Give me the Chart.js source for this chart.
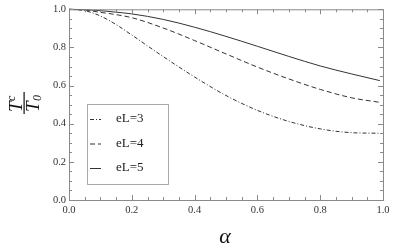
<!DOCTYPE html>
<html lang="en">
  <head>
    <meta charset="UTF-8" />
    <title>Tc over T0</title>
    <style>
      html, body { margin: 0; padding: 0; background: #fff; }
      #wrap { width: 405px; height: 252px; }
    </style>
  </head>
  <body>
    <div id="wrap">
      <canvas id="tcChart" width="405" height="252"></canvas>
    </div>

    <script src="https://cdn.jsdelivr.net/npm/chart.js"></script>
    <script>
      // values
      let alpha = [0, 0.05, 0.1, 0.15, 0.2, 0.3, 0.4, 0.5, 0.6, 0.7, 0.8, 0.9, 0.99];
      let eL3 = [1.0, 0.993, 0.965, 0.92, 0.865, 0.752, 0.645, 0.548, 0.47, 0.412, 0.373, 0.353, 0.35];
      let eL4 = [1.0, 0.996, 0.984, 0.972, 0.956, 0.902, 0.836, 0.766, 0.697, 0.635, 0.58, 0.536, 0.512];
      let eL5 = [1.0, 0.998, 0.993, 0.985, 0.976, 0.947, 0.906, 0.858, 0.806, 0.753, 0.703, 0.661, 0.626];
      let labels = ["eL=3", "eL=4", "eL=5"];
      let majorStep = 0.2;
      let minorStep = 0.05;

      let serif = "'Liberation Serif', 'Times New Roman', serif";
      let frameColor = "#8a8a8a";

      function pts(ys) {
        return alpha.map((a, i) => ({ x: a, y: ys[i] }));
      }

      function line(label, ys, dash) {
        return {
          label: label,
          data: pts(ys),
          borderColor: "#333",
          borderWidth: 1,
          borderDash: dash,
          pointRadius: 0,
          fill: false,
          cubicInterpolationMode: "monotone",
          clip: false,
        };
      }

      // frame, inward ticks on all four sides, legend box and axis titles
      let decorations = {
        id: "decorations",
        afterDraw(chart) {
          let ctx = chart.ctx;
          let area = chart.chartArea;
          let xs = chart.scales.x;
          let ys = chart.scales.y;
          ctx.save();
          ctx.strokeStyle = frameColor;
          ctx.lineWidth = 1;
          ctx.strokeRect(area.left + 0.5, area.top + 0.5, area.right - area.left, area.bottom - area.top);

          let n = Math.round(1 / minorStep);
          ctx.beginPath();
          for (let i = 0; i <= n; i++) {
            let v = i * minorStep;
            let major = i % Math.round(majorStep / minorStep) === 0;
            let len = major ? 5 : 3;
            let px = Math.round(xs.getPixelForValue(v)) + 0.5;
            ctx.moveTo(px, area.bottom);
            ctx.lineTo(px, area.bottom - len);
            ctx.moveTo(px, area.top);
            ctx.lineTo(px, area.top + len);
            let py = Math.round(ys.getPixelForValue(v)) + 0.5;
            ctx.moveTo(area.left, py);
            ctx.lineTo(area.left + len, py);
            ctx.moveTo(area.right, py);
            ctx.lineTo(area.right - len, py);
          }
          ctx.stroke();

          // legend
          ctx.strokeStyle = "#aaa";
          ctx.strokeRect(87.5, 104.5, 81, 80);
          let rowY = [119, 143.5, 168];
          chart.data.datasets.forEach((ds, i) => {
            ctx.strokeStyle = ds.borderColor;
            ctx.setLineDash(ds.borderDash || []);
            ctx.beginPath();
            ctx.moveTo(90, rowY[i] + 0.5);
            ctx.lineTo(101, rowY[i] + 0.5);
            ctx.stroke();
            ctx.setLineDash([]);
            ctx.fillStyle = "#222";
            ctx.font = "13px " + serif;
            ctx.textBaseline = "middle";
            ctx.textAlign = "left";
            ctx.fillText(ds.label, 116, rowY[i]);
          });

          // x title
          ctx.fillStyle = "#111";
          ctx.font = "italic 22px " + serif;
          ctx.textAlign = "center";
          ctx.textBaseline = "alphabetic";
          ctx.fillText("\u03b1", 225, 243);

          // y title: fraction T^c over T_0, rotated
          ctx.translate(24, 103);
          ctx.rotate(-Math.PI / 2);
          ctx.font = "italic 19px " + serif;
          ctx.textAlign = "left";
          ctx.fillText("T", -9, -2);
          ctx.font = "italic 12px " + serif;
          ctx.fillText("c", 2, -9);
          ctx.font = "italic 19px " + serif;
          ctx.fillText("T", -9, 15);
          ctx.font = "italic 12px " + serif;
          ctx.fillText("0", 2, 17);
          ctx.fillRect(-11, -0.5, 22, 1.2);
          ctx.restore();
        },
      };

      let canvas = document.querySelector("#tcChart");
      let chart = new Chart(canvas, {
        type: "line",
        data: {
          datasets: [
            line(labels[0], eL3, [4, 2, 1, 2]),
            line(labels[1], eL4, [5, 3]),
            line(labels[2], eL5, []),
          ],
        },
        options: {
          responsive: false,
          animation: false,
          layout: { padding: { left: 0, right: 22, top: 5, bottom: 0 } },
          plugins: { legend: { display: false }, tooltip: { enabled: false } },
          scales: {
            x: {
              type: "linear",
              min: 0,
              max: 1,
              afterFit: (s) => { s.height = 52; },
              border: { display: false },
              grid: { display: false, drawTicks: false },
              ticks: {
                stepSize: majorStep,
                padding: 4,
                maxRotation: 0,
                color: "#333",
                font: { family: serif, size: 10.5 },
                callback: (v) => v.toFixed(1),
              },
            },
            y: {
              min: 0,
              max: 1,
              afterFit: (s) => { s.width = 69; },
              border: { display: false },
              grid: { display: false, drawTicks: false },
              ticks: {
                stepSize: majorStep,
                padding: 3,
                color: "#333",
                font: { family: serif, size: 10.5 },
                callback: (v) => v.toFixed(1),
              },
            },
          },
        },
        plugins: [decorations],
      });
    </script>
  </body>
</html>
